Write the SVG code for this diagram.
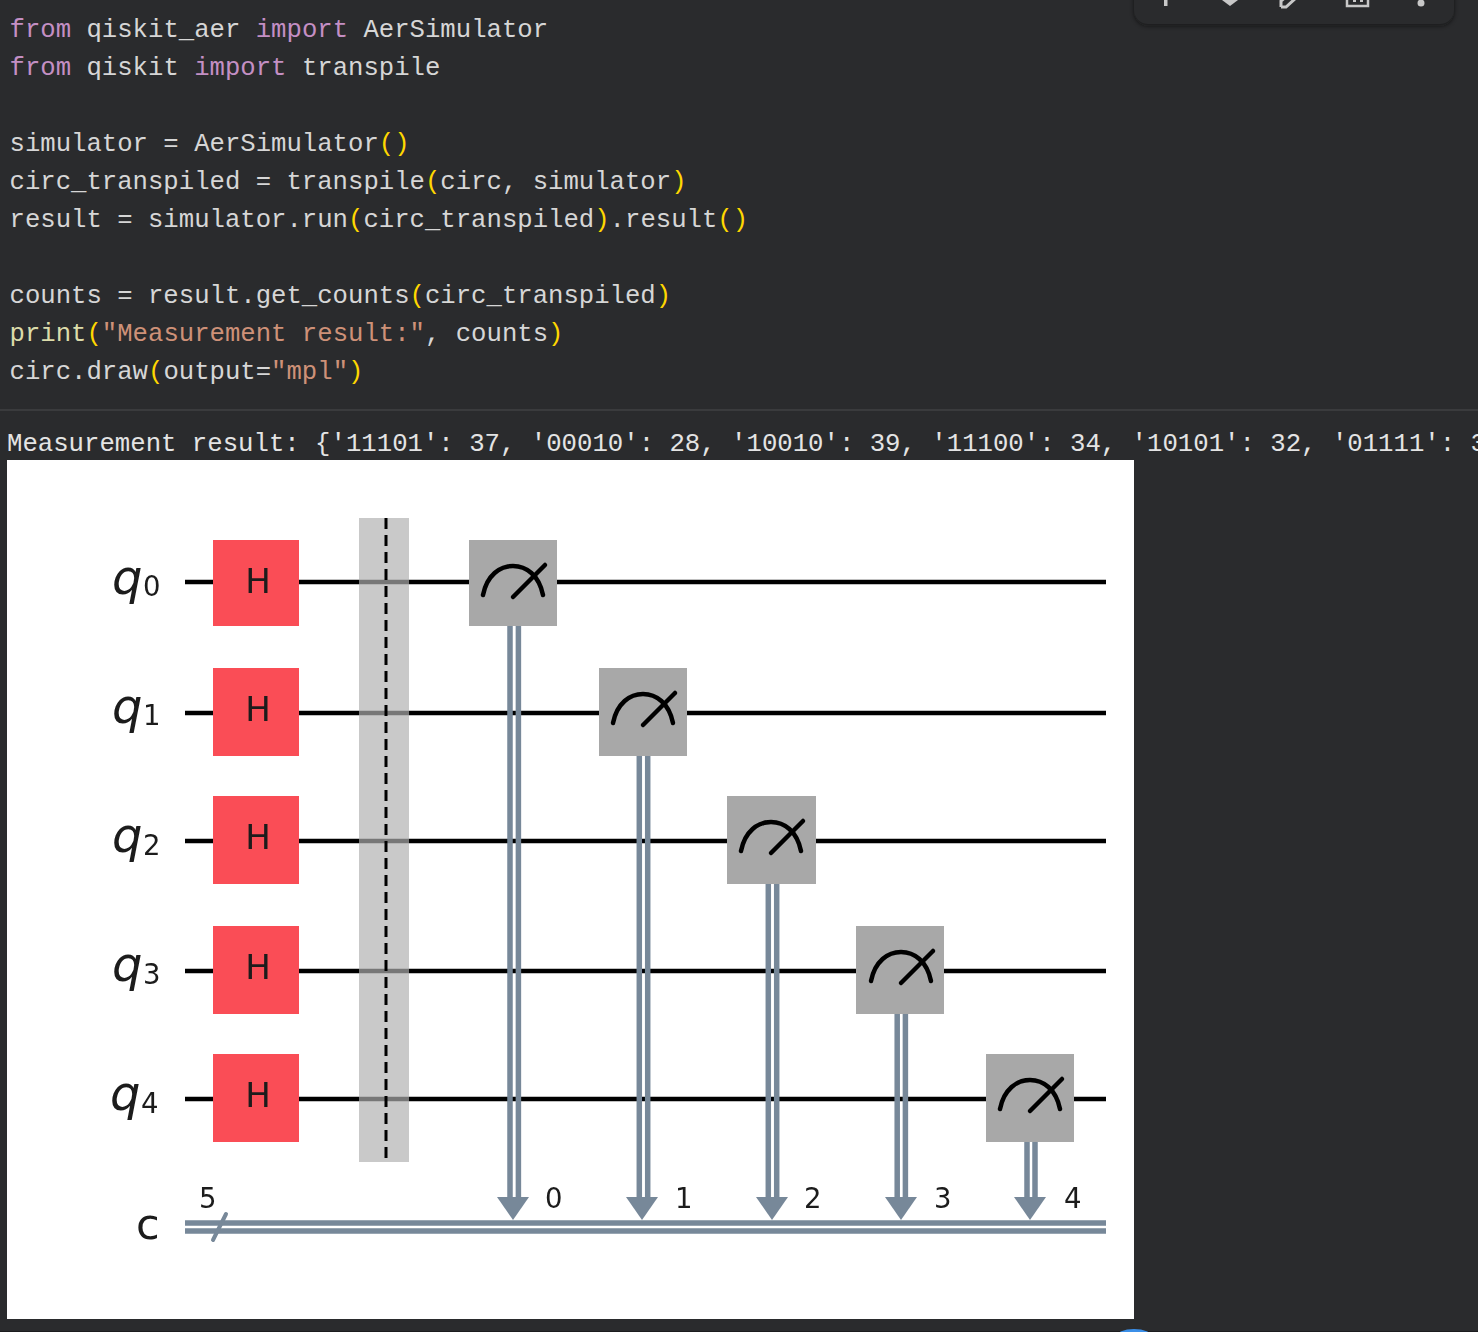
<svg xmlns="http://www.w3.org/2000/svg" width="1478" height="1332" viewBox="0 0 1478 1332">
<style>
.code{font-family:"Liberation Mono","DejaVu Sans Mono",monospace;font-size:25.65px;fill:#d6d6d6;white-space:pre}
.out{fill:#e4e4e4;font-size:25.68px}
.k{fill:#c48fc4}.f{fill:#dcdcaa}.s{fill:#ce9178}.p{fill:#ffd700}
.wire{stroke:#000;stroke-width:4.5;fill:none}
.cw{stroke:#778899;stroke-width:5.5;fill:none}
.h{fill:#fa4d56}
.m{fill:#a8a8a8}
.needle{stroke:#000;stroke-width:4.5;fill:none;stroke-linecap:round}
.lab{font-family:"DejaVu Sans",sans-serif;fill:#1a1a1a}
.hl{font-size:34px;text-anchor:middle}
.q{font-size:48px;font-style:italic}
.d{font-size:27.5px}
.tb{fill:#c8c8c8}
</style>
<defs>
<filter id="soft" x="-2%" y="-2%" width="104%" height="104%"><feGaussianBlur stdDeviation="0.7"/></filter>
<filter id="sh" x="-10%" y="-50%" width="120%" height="200%"><feGaussianBlur stdDeviation="2"/></filter>
<g id="gauge"><path class="needle" d="M14 55C18 35 31 26 44 26C57 26 70 35 74 55"/><path class="needle" d="M44 57L76 25"/></g>
<path id="ah" fill="#778899" d="M-16 0H16L0 23Z"/>
</defs>
<rect width="1478" height="1332" fill="#2a2b2d"/>
<g id="toolbar">
<rect x="1134" y="-30" width="320" height="56" rx="14" fill="#111" opacity=".6" filter="url(#sh)"/>
<rect x="1134" y="-30" width="320" height="54" rx="14" fill="#2a2b2d"/>
<rect class="tb" x="1164" y="-2" width="3.5" height="8"/>
<path class="tb" d="M1222 0H1238L1230 6Z"/>
<path d="M1281 7V1L1287 -4M1281 7H1286L1297 -3" fill="none" stroke="#c8c8c8" stroke-width="3"/>
<path d="M1347 -2V6H1368V-2" fill="none" stroke="#c8c8c8" stroke-width="2.5"/><rect class="tb" x="1353" y="-2" width="3" height="4"/><rect class="tb" x="1360" y="-2" width="3" height="4"/>
<circle class="tb" cx="1421" cy="3" r="3.5"/>
</g>
<g id="code">
<text class="code" x="9.5" y="37"><tspan class="k">from</tspan> qiskit_aer <tspan class="k">import</tspan> AerSimulator</text>
<text class="code" x="9.5" y="75"><tspan class="k">from</tspan> qiskit <tspan class="k">import</tspan> transpile</text>
<text class="code" x="9.5" y="151">simulator = AerSimulator<tspan class="p">()</tspan></text>
<text class="code" x="9.5" y="189">circ_transpiled = transpile<tspan class="p">(</tspan>circ, simulator<tspan class="p">)</tspan></text>
<text class="code" x="9.5" y="227">result = simulator.run<tspan class="p">(</tspan>circ_transpiled<tspan class="p">)</tspan>.result<tspan class="p">()</tspan></text>
<text class="code" x="9.5" y="303">counts = result.get_counts<tspan class="p">(</tspan>circ_transpiled<tspan class="p">)</tspan></text>
<text class="code" x="9.5" y="341"><tspan class="f">print</tspan><tspan class="p">(</tspan><tspan class="s">"Measurement result:"</tspan>, counts<tspan class="p">)</tspan></text>
<text class="code" x="9.5" y="379">circ.draw<tspan class="p">(</tspan>output=<tspan class="s">"mpl"</tspan><tspan class="p">)</tspan></text>
</g>
<rect id="divider" x="0" y="409" width="1478" height="2" fill="#3a3b3d"/>
<text id="output" class="code out" x="7" y="451">Measurement result: {'11101': 37, '00010': 28, '10010': 39, '11100': 34, '10101': 32, '01111': 3</text>
<rect id="plot-bg" x="7" y="460" width="1127" height="859" fill="#fff"/>
<g id="plot" filter="url(#soft)">
<g id="connectors">
<path class="wire" d="M185 582H1106M185 713H1106M185 841H1106M185 971H1106M185 1099H1106"/>
<path class="cw" d="M185 1223H1106M185 1231H1106"/>
<path d="M213 1240L226 1214" stroke="#778899" stroke-width="4" stroke-linecap="round"/>
<path class="cw" d="M510 626V1200M518.4 626V1200M639.3 756V1200M647.7 756V1200M768.3 884V1200M776.7 884V1200M897.2 1014V1200M905.4 1014V1200M1027 1142V1200M1035 1142V1200"/>
<use href="#ah" x="513" y="1197"/><use href="#ah" x="642" y="1197"/><use href="#ah" x="772" y="1197"/><use href="#ah" x="901" y="1197"/><use href="#ah" x="1030" y="1197"/>
</g>
<g id="barrier">
<rect x="359" y="518" width="50" height="644" fill="#afafaf" fill-opacity=".68"/>
<path d="M386 518V1163" stroke="#000" stroke-width="3" stroke-dasharray="11 6" fill="none"/>
</g>
<g id="h0"><rect class="h" x="213" y="540" width="86" height="86"/><text class="lab hl" x="258" y="593">H</text></g>
<g id="h1"><rect class="h" x="213" y="668" width="86" height="88"/><text class="lab hl" x="258" y="721">H</text></g>
<g id="h2"><rect class="h" x="213" y="796" width="86" height="88"/><text class="lab hl" x="258" y="849">H</text></g>
<g id="h3"><rect class="h" x="213" y="926" width="86" height="88"/><text class="lab hl" x="258" y="979">H</text></g>
<g id="h4"><rect class="h" x="213" y="1054" width="86" height="88"/><text class="lab hl" x="258" y="1107">H</text></g>
<g id="m0"><rect class="m" x="469" y="540" width="88" height="86"/><use href="#gauge" x="469" y="540"/></g>
<g id="m1"><rect class="m" x="599" y="668" width="88" height="88"/><use href="#gauge" x="599" y="668"/></g>
<g id="m2"><rect class="m" x="727" y="796" width="89" height="88"/><use href="#gauge" x="727" y="796"/></g>
<g id="m3"><rect class="m" x="856" y="926" width="88" height="88"/><use href="#gauge" x="857" y="926"/></g>
<g id="m4"><rect class="m" x="986" y="1054" width="88" height="88"/><use href="#gauge" x="986" y="1054"/></g>
<g id="l0"><text class="lab q" x="112" y="594">q</text><text class="lab d" x="143" y="596">0</text></g>
<g id="l1"><text class="lab q" x="112" y="723">q</text><text class="lab d" x="143" y="725">1</text></g>
<g id="l2"><text class="lab q" x="112" y="852">q</text><text class="lab d" x="143" y="855">2</text></g>
<g id="l3"><text class="lab q" x="112" y="981">q</text><text class="lab d" x="143" y="984">3</text></g>
<g id="l4"><text class="lab q" x="110" y="1110">q</text><text class="lab d" x="141" y="1113">4</text></g>
<text id="lc" class="lab" x="136" y="1239" font-size="43">c</text>
<text class="lab d" x="199" y="1208">5</text>
<text class="lab d" x="545" y="1208">0</text>
<text class="lab d" x="675" y="1208">1</text>
<text class="lab d" x="804" y="1208">2</text>
<text class="lab d" x="934" y="1208">3</text>
<text class="lab d" x="1064" y="1208">4</text>
</g>
<rect id="bottom-edge" x="0" y="1331" width="1478" height="1" fill="#1c1c1e"/>
<ellipse id="blue-edge" cx="1134" cy="1337" rx="18" ry="8" fill="#3b8fe8"/>
</svg>
